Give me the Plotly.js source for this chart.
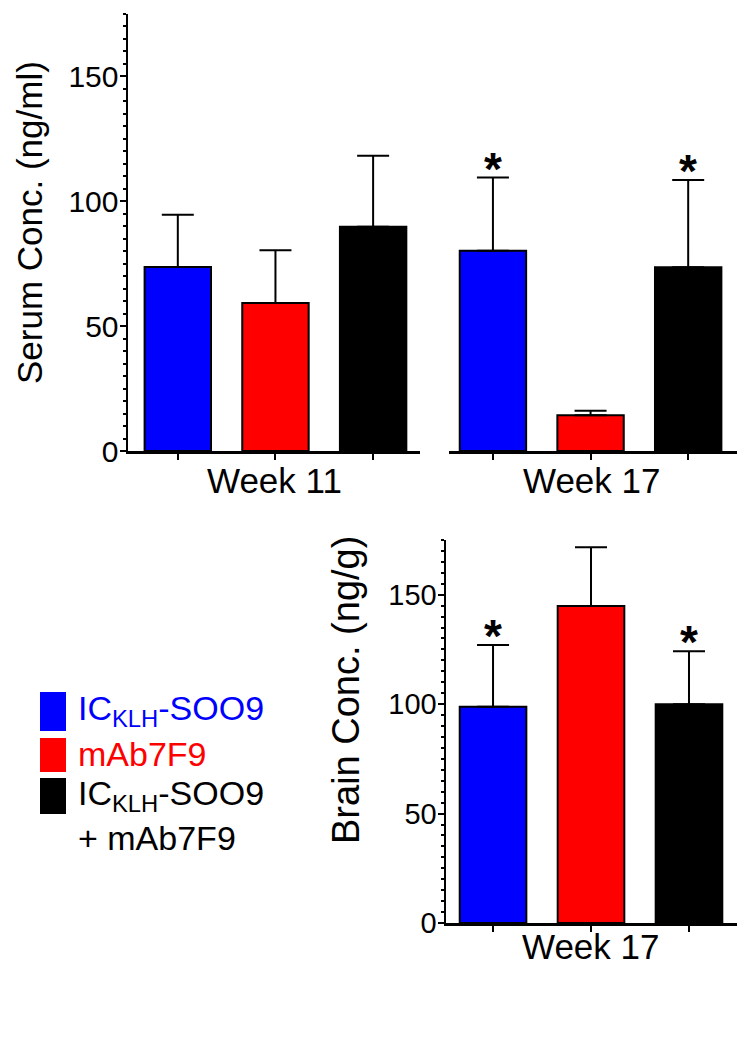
<!DOCTYPE html>
<html>
<head>
<meta charset="utf-8">
<script src="https://cdn.plot.ly/plotly-3.0.1.min.js"></script>
<style>
  html, body { margin: 0; padding: 0; background: #fff; }
  #chart { width: 751px; height: 1045px; }
</style>
</head>
<body>
<div id="chart"></div>
<script>
// groups, same order in every panel
const groups = ['IC-KLH-SOO9', 'mAb7F9', 'IC-KLH-SOO9 + mAb7F9'];
const groupColors = ['#0000ff', '#ff0000', '#000000'];
const legendLabels = ['IC<sub>KLH</sub>-SOO9', 'mAb7F9', 'IC<sub>KLH</sub>-SOO9', '+ mAb7F9'];
const legendTextColors = ['#0000ff', '#ff0000', '#000000', '#000000'];

// serum, ng/ml (mean and upper SEM)
const serumWeek11 = [73.6, 59.2, 89.7];
const serumWeek11Err = [20.9, 21.1, 28.4];
const serumWeek17 = [80.1, 14.3, 73.5];
const serumWeek17Err = [29.3, 1.8, 34.9];
const serumWeek17Sig = [true, false, true];

// brain, ng/g at week 17
const brainWeek17 = [98.8, 144.8, 100.0];
const brainWeek17Err = [28.2, 26.9, 24.2];
const brainWeek17Sig = [true, false, true];

const yTicks = [0, 50, 100, 150];

const FONT = '"Liberation Sans", Arial, sans-serif';

function barTrace(values, errors, xaxis, yaxis) {
    return {
        type: 'bar',
        x: groups,
        y: values,
        xaxis: xaxis,
        yaxis: yaxis,
        width: 0.68,
        marker: {
            color: groupColors,
            line: { color: '#000', width: 2 }
        },
        error_y: {
            type: 'data',
            symmetric: false,
            array: errors,
            arrayminus: values.map(() => 0),
            color: '#000',
            thickness: 2,
            width: 16
        },
        hoverinfo: 'skip',
        showlegend: false
    };
}

function starAnnotations(values, errors, sig, xref, yref) {
    let out = [];
    sig.forEach((isSig, i) => {
        if (!isSig) return;
        out.push({
            xref: xref, yref: yref,
            x: groups[i], y: values[i] + errors[i],
            text: '<b>*</b>',
            showarrow: false,
            yanchor: 'bottom',
            yshift: -19,
            font: { family: FONT, size: 46, color: '#000' }
        });
    });
    return out;
}

function xAxis(domain, range, anchor) {
    return {
        domain: domain,
        range: range,
        anchor: anchor,
        type: 'category',
        showline: true,
        linewidth: 2.5,
        linecolor: '#000',
        ticks: 'outside',
        ticklen: 6,
        tickwidth: 2,
        tickcolor: '#000',
        showticklabels: false,
        showgrid: false,
        zeroline: false,
        fixedrange: true
    };
}

function yAxis(domain, anchor, fontSize) {
    return {
        domain: domain,
        range: [0, 175],
        anchor: anchor,
        showline: true,
        linewidth: 2.5,
        linecolor: '#000',
        ticks: 'outside',
        ticklen: 6,
        tickwidth: 2,
        tickcolor: '#000',
        tickvals: yTicks,
        ticktext: yTicks.map(String),
        tickfont: { family: FONT, size: fontSize, color: '#000' },
        ticklabelstandoff: -5,
        minor: { dtick: 5, tick0: 0, ticks: 'outside', ticklen: 3, tickwidth: 2, tickcolor: '#000' },
        showgrid: false,
        zeroline: false,
        fixedrange: true
    };
}

function label(text, x, y, angle, size) {
    return {
        xref: 'paper', yref: 'paper',
        x: x, y: y,
        text: text,
        showarrow: false,
        textangle: angle || 0,
        xanchor: 'center', yanchor: 'middle',
        font: { family: FONT, size: size || 35, color: '#000' }
    };
}

const W = 751, H = 1045;
const px = v => v / W;
const py = v => 1 - v / H;

let traces = [
    barTrace(serumWeek11, serumWeek11Err, 'x', 'y'),
    barTrace(serumWeek17, serumWeek17Err, 'x2', 'y'),
    barTrace(brainWeek17, brainWeek17Err, 'x3', 'y2')
];

// legend drawn by hand: coloured blocks plus text lines
let legendShapes = [
    [692, 731], [738, 772], [778, 814]
].map((rows, i) => ({
    type: 'rect', xref: 'paper', yref: 'paper',
    x0: px(40), x1: px(66), y0: py(rows[1]), y1: py(rows[0]),
    fillcolor: groupColors[i], line: { width: 0 }
}));

let legendRows = [710, 754, 795, 838];
let legendAnnotations = legendLabels.map((text, i) => ({
    xref: 'paper', yref: 'paper',
    x: px(76), y: py(legendRows[i]),
    xanchor: 'left', yanchor: 'middle',
    text: text,
    showarrow: false,
    font: { family: FONT, size: 34, color: legendTextColors[i] }
}));

let annotations = [
    label('Serum Conc. (ng/ml)', px(30), py(223), -90, 35),
    label('Brain Conc. (ng/g)', px(346), py(690), -90, 38),
    label('Week 11', px(274), py(481)),
    label('Week 17', px(592), py(481)),
    label('Week 17', px(591), py(946)),
    ...starAnnotations(serumWeek17, serumWeek17Err, serumWeek17Sig, 'x2', 'y'),
    ...starAnnotations(brainWeek17, brainWeek17Err, brainWeek17Sig, 'x3', 'y2'),
    ...legendAnnotations
];

let layout = {
    width: W,
    height: H,
    margin: { l: 0, r: 0, t: 0, b: 0, pad: 0 },
    paper_bgcolor: '#fff',
    plot_bgcolor: 'rgba(0,0,0,0)',
    showlegend: false,
    font: { family: FONT, color: '#000' },
    xaxis: xAxis([px(128), px(420)], [-0.51, 2.48], 'y'),
    xaxis2: xAxis([px(449), px(737)], [-0.45, 2.5], 'y'),
    xaxis3: xAxis([px(446), px(737)], [-0.48, 2.49], 'y2'),
    yaxis: yAxis([py(451), py(13.5)], 'x', 30),
    yaxis2: yAxis([py(923), py(540)], 'x3', 29),
    shapes: legendShapes,
    annotations: annotations
};

Plotly.newPlot('chart', traces, layout, { staticPlot: true });
</script>
</body>
</html>
